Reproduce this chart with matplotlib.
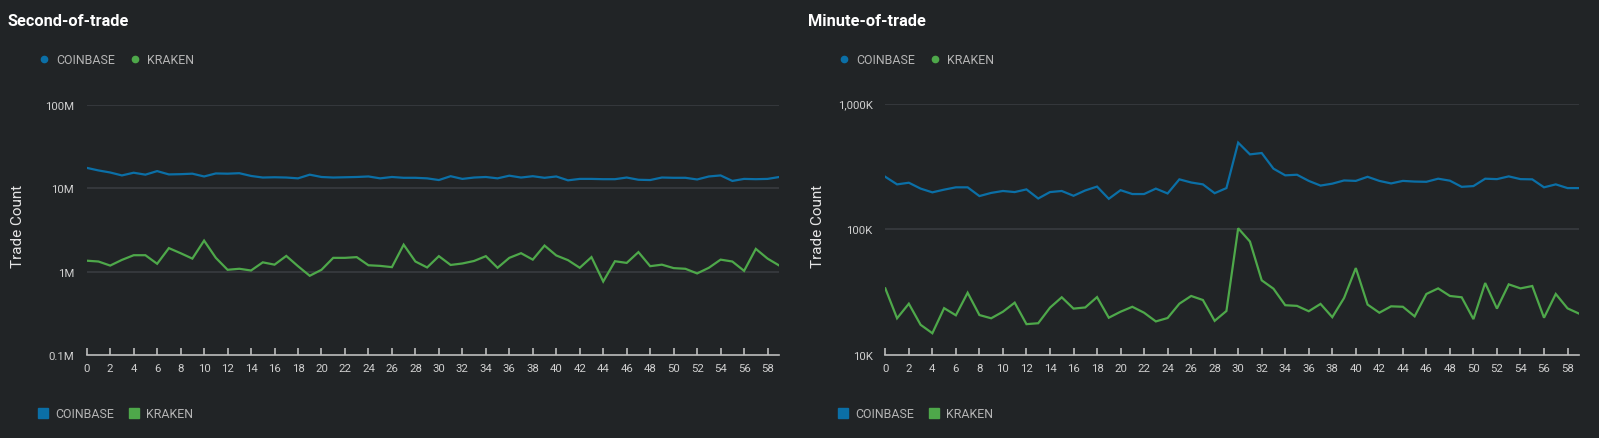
import numpy as np
import matplotlib
matplotlib.use('Agg')
import matplotlib.pyplot as plt
from matplotlib.lines import Line2D

plt.rcParams['font.family'] = ['Roboto', 'DejaVu Sans']

# x positions (second / minute of trade)
slots = list(range(60))

# Second-of-trade counts
sec_coinbase = [17.5e6, 16.3e6, 15.4e6, 14.2e6, 15.3e6, 14.5e6, 16.0e6, 14.6e6, 14.7e6, 14.9e6,
                13.8e6, 15.0e6, 14.9e6, 15.1e6, 14.0e6, 13.4e6, 13.5e6, 13.4e6, 13.1e6, 14.5e6,
                13.6e6, 13.4e6, 13.5e6, 13.6e6, 13.8e6, 13.1e6, 13.6e6, 13.3e6, 13.3e6, 13.1e6,
                12.5e6, 13.9e6, 12.9e6, 13.4e6, 13.6e6, 13.1e6, 14.1e6, 13.4e6, 13.9e6, 13.3e6,
                13.8e6, 12.4e6, 12.9e6, 12.9e6, 12.8e6, 12.8e6, 13.4e6, 12.6e6, 12.5e6, 13.4e6,
                13.3e6, 13.3e6, 12.7e6, 13.8e6, 14.2e6, 12.2e6, 12.9e6, 12.8e6, 12.9e6, 13.6e6]
sec_kraken = [1.35e6, 1.32e6, 1.18e6, 1.38e6, 1.57e6, 1.57e6, 1.24e6, 1.91e6, 1.66e6, 1.43e6,
              2.35e6, 1.46e6, 1.05e6, 1.08e6, 1.03e6, 1.29e6, 1.21e6, 1.54e6, 1.16e6, 0.89e6,
              1.05e6, 1.46e6, 1.46e6, 1.49e6, 1.19e6, 1.17e6, 1.13e6, 2.10e6, 1.32e6, 1.12e6,
              1.53e6, 1.20e6, 1.25e6, 1.34e6, 1.53e6, 1.11e6, 1.46e6, 1.66e6, 1.39e6, 2.05e6,
              1.56e6, 1.37e6, 1.11e6, 1.49e6, 0.76e6, 1.33e6, 1.27e6, 1.71e6, 1.16e6, 1.21e6,
              1.10e6, 1.08e6, 0.95e6, 1.11e6, 1.39e6, 1.32e6, 1.02e6, 1.87e6, 1.43e6, 1.18e6]

# Minute-of-trade counts
min_coinbase = [262e3, 228e3, 235e3, 211e3, 197e3, 207e3, 216e3, 216e3, 184e3, 195e3,
                202e3, 198e3, 208e3, 176e3, 198e3, 202e3, 185e3, 204e3, 219e3, 175e3,
                205e3, 191e3, 191e3, 211e3, 193e3, 250e3, 236e3, 228e3, 194e3, 213e3,
                490e3, 395e3, 405e3, 304e3, 269e3, 272e3, 243e3, 223e3, 231e3, 245e3,
                243e3, 262e3, 243e3, 232e3, 243e3, 240e3, 239e3, 253e3, 244e3, 218e3,
                221e3, 253e3, 251e3, 264e3, 251e3, 250e3, 216e3, 228e3, 213e3, 213e3]
min_kraken = [33.9e3, 19.6e3, 25.6e3, 17.4e3, 14.9e3, 23.6e3, 20.7e3, 31.3e3, 20.8e3, 19.6e3,
              22.1e3, 26.1e3, 17.6e3, 17.9e3, 23.8e3, 28.8e3, 23.4e3, 23.9e3, 28.9e3, 19.8e3,
              22.1e3, 24.2e3, 21.7e3, 18.5e3, 19.7e3, 25.6e3, 29.5e3, 27.4e3, 18.7e3, 22.4e3,
              102e3, 80e3, 39.3e3, 33.7e3, 24.9e3, 24.6e3, 22.3e3, 25.5e3, 20.0e3, 28.4e3,
              49.2e3, 25.2e3, 21.7e3, 24.4e3, 24.2e3, 20.3e3, 30.6e3, 33.9e3, 29.5e3, 28.8e3,
              19.3e3, 37.4e3, 23.4e3, 36.5e3, 33.9e3, 35.4e3, 19.8e3, 30.6e3, 23.5e3, 21.3e3]

series_names = ['COINBASE', 'KRAKEN']
series_colors = ['#0b6fa6', '#4ea84a']

sec_ticks = [1e5, 1e6, 1e7, 1e8]
sec_labels = ['0.1M', '1M', '10M', '100M']
min_ticks = [1e4, 1e5, 1e6]
min_labels = ['10K', '100K', '1,000K']

bg = '#212426'
W, H = 1599, 439
fig = plt.figure(figsize=(W / 100, H / 100), dpi=100, facecolor=bg)


def panel(x0, rect, title, cb, kr, ticks, labels):
    ax = fig.add_axes(rect, facecolor=bg)
    ax.plot(slots, cb, color=series_colors[0], lw=1.6, solid_joinstyle='miter')
    ax.plot(slots, kr, color=series_colors[1], lw=1.6, solid_joinstyle='miter')
    ax.set_yscale('log')
    ax.set_xlim(0, 59)
    ax.set_ylim(ticks[0], ticks[-1])
    ax.set_yticks(ticks)
    ax.set_yticklabels(labels)
    ax.yaxis.set_minor_locator(matplotlib.ticker.NullLocator())
    ax.set_xticks(range(0, 60, 2))
    for t in ticks[1:]:
        ax.axhline(t, color='#383c40', lw=1.2, zorder=0)
    for s in ['top', 'right', 'left']:
        ax.spines[s].set_visible(False)
    ax.spines['bottom'].set_color('#bdbdbd')
    ax.spines['bottom'].set_linewidth(1.2)
    ax.tick_params(axis='x', direction='in', length=5, width=1.2, color='#bdbdbd',
                   labelcolor='#cfcfcf', labelsize=8.2, pad=6)
    ax.tick_params(axis='y', length=0, labelcolor='#cfcfcf', labelsize=8.2, pad=9)

    fig.text((x0 + 8) / W, 1 - 22 / H, title, color='white', fontsize=11.8,
             fontweight='bold', va='center', ha='left')
    fig.text((x0 + 18) / W, 1 - 226 / H, 'Trade Count', color='#e6e6e6', fontsize=11,
             rotation=90, va='center', ha='center')

    top_handles = [Line2D([], [], ls='none', marker='o', ms=4.5, color=c) for c in series_colors]
    fig.legend(top_handles, series_names, loc='center left',
               bbox_to_anchor=((x0 + 38) / W, 1 - 61 / H), ncol=2, frameon=False,
               handlelength=1.0, handletextpad=0.45, columnspacing=1.15,
               borderpad=0, borderaxespad=0, fontsize=8.9, labelcolor='#b5b5b5')
    bot_handles = [Line2D([], [], ls='none', marker='s', ms=7.5, color=c) for c in series_colors]
    fig.legend(bot_handles, series_names, loc='center left',
               bbox_to_anchor=((x0 + 37) / W, 1 - 415 / H), ncol=2, frameon=False,
               handlelength=1.0, handletextpad=0.45, columnspacing=1.15,
               borderpad=0, borderaxespad=0, fontsize=8.9, labelcolor='#b5b5b5')
    return ax


panel(0, [86.7 / W, (H - 356) / H, 692.6 / W, (356 - 105.7) / H],
      'Second-of-trade', sec_coinbase, sec_kraken, sec_ticks, sec_labels)
panel(800, [885.3 / W, (H - 356) / H, 694 / W, (356 - 104.7) / H],
      'Minute-of-trade', min_coinbase, min_kraken, min_ticks, min_labels)

fig.savefig('out.png', dpi=100, facecolor=bg)
